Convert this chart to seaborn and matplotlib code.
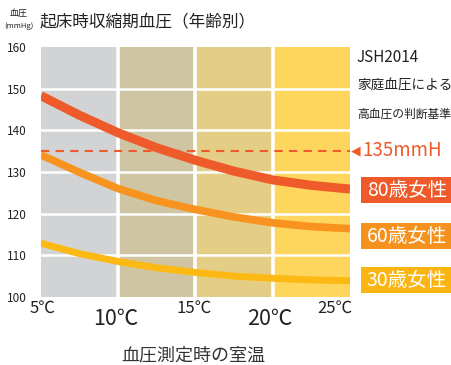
import numpy as np
import pandas as pd
import matplotlib
matplotlib.use("Agg")
import matplotlib.pyplot as plt
import seaborn as sns
from matplotlib.patches import Rectangle

# -------------------------------
# data
# -------------------------------
temps = [5, 7.5, 10, 12.5, 15, 17.5, 20, 22.5, 25]
bp_80 = [148.3, 143.6, 139.4, 135.8, 132.8, 130.2, 128.1, 126.8, 125.9]
bp_60 = [134.1, 129.9, 126.0, 123.1, 121.0, 119.2, 117.8, 116.9, 116.4]
bp_30 = [112.9, 110.4, 108.5, 107.0, 105.9, 105.0, 104.5, 104.1, 103.9]
groups = ["80歳女性", "60歳女性", "30歳女性"]
threshold = 135
band_edges = [5, 10, 15, 20, 25]
y_ticks = [100, 110, 120, 130, 140, 150, 160]

df = pd.DataFrame({
    "temp": temps * 3,
    "bp": bp_80 + bp_60 + bp_30,
    "group": [groups[0]] * 9 + [groups[1]] * 9 + [groups[2]] * 9,
})

# -------------------------------
# style
# -------------------------------
sns.set_style("white")
plt.rcParams['font.family'] = ['Noto Sans CJK JP', 'DejaVu Sans']

line_colors = {groups[0]: "#EE5A2A", groups[1]: "#F7931E", groups[2]: "#FDB913"}
box_colors = {groups[0]: "#EE5A2A", groups[1]: "#F5921E", groups[2]: "#FBB512"}
band_colors = ["#D1D3D4", "#D0C5A2", "#E4CD85", "#FED65E"]

fig = plt.figure(figsize=(4.52, 3.65), dpi=100)
ax = fig.add_axes([41 / 452, 1 - 297 / 365, 309 / 452, 250 / 365])

# background bands
for i in range(4):
    ax.axvspan(band_edges[i], band_edges[i + 1], color=band_colors[i], lw=0, zorder=0)
for t in band_edges[1:-1]:
    ax.axvline(t, color="white", lw=2.6, zorder=1)
for y in y_ticks[1:-1]:
    ax.axhline(y, color="white", lw=1.8, zorder=1)

# threshold
ax.axhline(threshold, color="#EE5A2A", lw=1.5, ls=(0, (4, 3)), zorder=2)

# curves
widths = {groups[0]: 6.5, groups[1]: 5.5, groups[2]: 5.0}
for g in groups:
    sns.lineplot(data=df[df["group"] == g], x="temp", y="bp", color=line_colors[g],
                 lw=widths[g], ax=ax, zorder=3, solid_capstyle="butt",
                 solid_joinstyle="round")

ax.set_xlim(5, 25)
ax.set_ylim(100, 160)
ax.set_yticks(y_ticks)
ax.set_yticklabels([str(v) for v in y_ticks], fontsize=8.5, color="#222222")
ax.tick_params(axis="y", length=0, pad=10)
ax.set_xticks([])
ax.set_xlabel("")
ax.set_ylabel("")
for s in ax.spines.values():
    s.set_visible(False)

# x labels
def px(x, y):
    return x / 452, 1 - y / 365

for x, y, lab, fs in [(42, 308, "5℃", 12), (194, 308, "15℃", 12), (335, 308, "25℃", 12),
                      (116, 319, "10℃", 15.5), (270, 319, "20℃", 15.5)]:
    fig.text(*px(x, y), lab, ha="center", va="center", fontsize=fs, color="#222222")

fig.text(*px(193, 355), "血圧測定時の室温", ha="center", va="center", fontsize=13, color="#333333")

# title
fig.text(*px(40, 22), "起床時収縮期血圧（年齢別）", ha="left", va="center", fontsize=12, color="#222222")
fig.text(*px(19, 13), "血圧", ha="center", va="center", fontsize=6.5, color="#222222")
fig.text(*px(19, 26), "(mmHg)", ha="center", va="center", fontsize=5.5, color="#222222")

# right annotations
fig.text(*px(357, 58), "JSH2014", ha="left", va="center", fontsize=11, color="#222222")
fig.text(*px(357, 86), "家庭血圧による", ha="left", va="center", fontsize=9.8, color="#222222")
fig.text(*px(357, 114), "高血圧の判断基準", ha="left", va="center", fontsize=8.5, color="#222222")
fig.text(*px(356, 151), "◀", ha="center", va="center", fontsize=9, color="#EE5A2A",
         family=["DejaVu Sans"])
fig.text(*px(362, 151), "135mmH", ha="left", va="center", fontsize=13.5, color="#EE5A2A")

# label boxes
for g, (top, bot) in zip(groups, [(177, 203), (223, 249), (267, 293)]):
    x0, y0 = px(361, bot)
    fig.add_artist(Rectangle((x0, y0), 91 / 452, (bot - top) / 365,
                             transform=fig.transFigure, color=box_colors[g], lw=0))
    fig.text(*px(407, (top + bot) / 2), g, ha="center", va="center", fontsize=14, color="white")

fig.savefig("out.png", dpi=100)
